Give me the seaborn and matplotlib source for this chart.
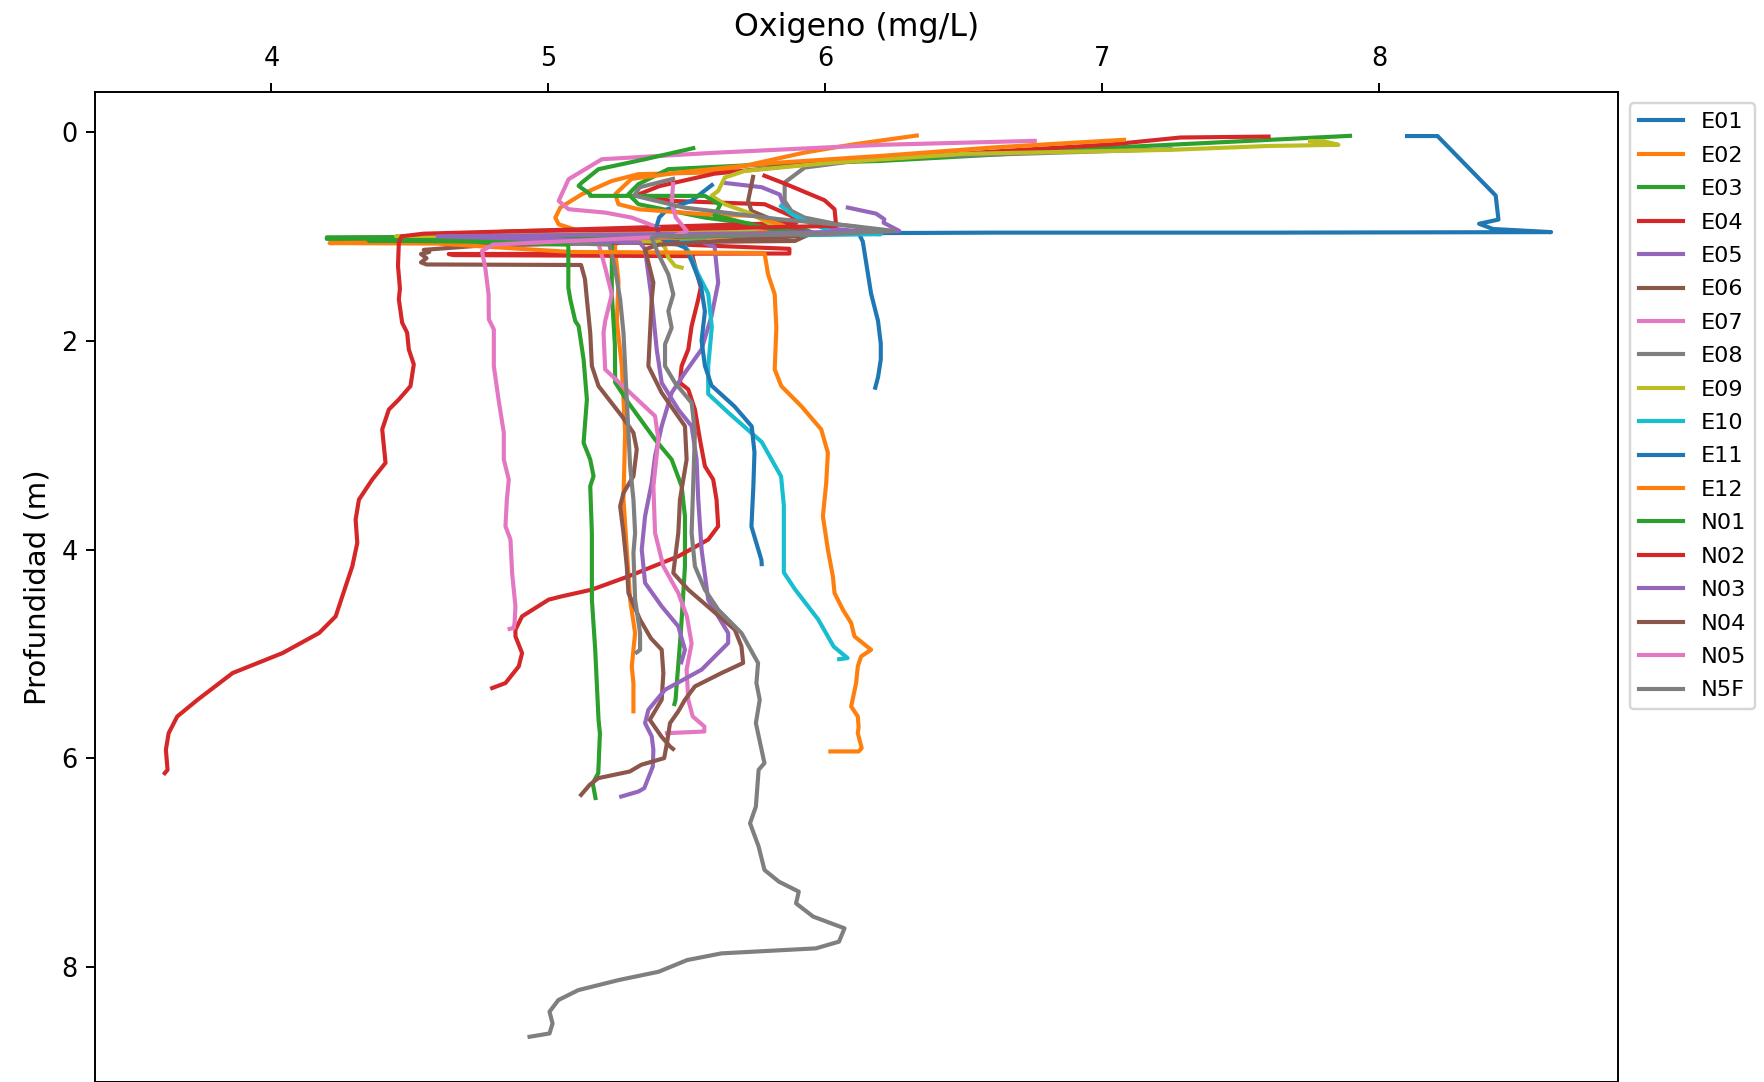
import matplotlib
matplotlib.use("Agg")
import matplotlib.pyplot as plt
import seaborn as sns
import pandas as pd

# Dissolved-oxygen profiles (mg/L) against depth (m) for each station
E01_ox = [8.10, 8.21, 8.42, 8.43, 8.36, 8.41, 8.62, 7.60, 6.60, 6.12, 6.135, 6.15, 6.165, 6.19, 6.20, 6.20, 6.19, 6.18]
E01_prof = [0.04, 0.04, 0.61, 0.84, 0.88, 0.93, 0.96, 0.965, 0.965, 0.97, 1.05, 1.30, 1.55, 1.81, 2.03, 2.18, 2.35, 2.45]

E02_ox = [6.33, 6.10, 5.925, 5.70, 5.565, 5.325, 5.229, 5.121, 5.043, 5.025, 5.037, 5.10, 5.40, 5.70, 5.30, 5.24, 5.241,
          5.253, 5.247, 5.265, 5.277, 5.271, 5.283, 5.295, 5.313, 5.301, 5.307, 5.307]
E02_prof = [0.035, 0.12, 0.198, 0.33, 0.39, 0.405, 0.47, 0.597, 0.725, 0.821, 0.885, 0.94, 0.97, 0.985, 1.00, 1.08, 1.14,
            1.43, 1.81, 2.24, 2.88, 3.52, 4.00, 4.48, 4.80, 5.12, 5.28, 5.55]

E03_ox = [7.894, 7.50, 7.042, 6.60, 6.201, 5.80, 5.433, 5.325, 5.289, 5.325, 5.445, 5.565, 5.745, 5.889, 5.95, 5.20, 4.20,
          4.20, 5.00, 5.229, 5.229, 5.229, 5.24, 5.241, 5.289, 5.385, 5.445, 5.481, 5.493, 5.493, 5.478, 5.463, 5.459, 5.455]
E03_prof = [0.038, 0.09, 0.15, 0.22, 0.278, 0.31, 0.357, 0.501, 0.597, 0.693, 0.757, 0.821, 0.885, 0.901, 0.96, 1.00, 1.01,
            1.025, 1.03, 1.05, 1.11, 1.556, 2.035, 2.40, 2.595, 2.946, 3.138, 3.394, 3.681, 4.161, 4.80, 5.30, 5.44, 5.48]

E04_ox = [7.60, 7.282, 7.042, 6.60, 6.201, 5.90, 5.60, 5.40, 5.325, 5.40, 5.445, 5.781, 5.877, 5.895, 5.40, 4.90, 4.55,
          4.60, 5.30, 5.87, 5.87, 4.64, 4.66, 5.52, 5.55, 5.541, 5.517, 5.505, 5.481, 5.475, 5.505, 5.529, 5.547, 5.565,
          5.595, 5.607, 5.613, 5.577, 5.469, 5.289, 5.157, 5.049, 5.001, 4.905, 4.881, 4.881, 4.905, 4.893, 4.845, 4.797]
E04_prof = [0.045, 0.054, 0.118, 0.19, 0.262, 0.32, 0.40, 0.52, 0.60, 0.64, 0.661, 0.693, 0.805, 0.87, 0.91, 0.95, 0.99,
            1.00, 1.06, 1.12, 1.165, 1.17, 1.18, 1.19, 1.49, 1.604, 1.86, 2.083, 2.243, 2.403, 2.467, 2.659, 2.946, 3.202,
            3.33, 3.522, 3.777, 3.905, 4.065, 4.257, 4.384, 4.448, 4.48, 4.64, 4.768, 4.832, 4.992, 5.119, 5.279, 5.327]

E05_ox = [5.64, 5.77, 5.835, 5.85, 5.90, 6.00, 6.15, 5.50, 4.65, 5.00, 5.55, 5.60, 5.601, 5.613, 5.589, 5.553, 5.493,
          5.445, 5.409, 5.385, 5.373, 5.349, 5.337, 5.349, 5.409, 5.469, 5.493, 5.48]
E05_prof = [0.49, 0.53, 0.60, 0.70, 0.82, 0.92, 0.96, 0.985, 1.00, 1.02, 1.05, 1.10, 1.125, 1.444, 1.764, 2.083, 2.307,
            2.499, 2.818, 3.106, 3.362, 3.681, 4.001, 4.32, 4.544, 4.736, 4.96, 5.08]

E06_ox = [5.739, 5.721, 5.733, 5.805, 5.865, 5.95, 5.89, 5.30, 4.75, 4.55, 4.57, 4.54, 4.56, 4.54, 4.56, 5.118, 5.132,
          5.139, 5.151, 5.157, 5.181, 5.265, 5.307, 5.319, 5.307, 5.271, 5.259, 5.271, 5.283, 5.289, 5.331, 5.37, 5.409,
          5.415, 5.409, 5.373, 5.366, 5.408, 5.439, 5.45]
E06_prof = [0.431, 0.661, 0.757, 0.837, 0.917, 0.97, 1.045, 1.06, 1.09, 1.13, 1.15, 1.17, 1.21, 1.25, 1.27, 1.275, 1.41,
            1.604, 1.924, 2.243, 2.435, 2.722, 2.882, 3.042, 3.298, 3.458, 3.585, 3.841, 4.161, 4.417, 4.672, 4.85, 4.96,
            5.183, 5.439, 5.60, 5.631, 5.791, 5.886, 5.91]

E07_ox = [6.756, 6.20, 5.60, 5.193, 5.073, 5.037, 5.073, 5.205, 5.301, 5.397, 5.42, 5.12, 5.175, 5.205, 5.229, 5.205,
          5.199, 5.205, 5.385, 5.397, 5.379, 5.385, 5.415, 5.469, 5.50, 5.517, 5.499, 5.505, 5.521, 5.563, 5.563, 5.428]
E07_prof = [0.086, 0.124, 0.20, 0.262, 0.453, 0.661, 0.741, 0.773, 0.821, 0.917, 0.97, 1.00, 1.013, 1.30, 1.556, 1.812,
             1.924, 2.275, 2.722, 2.946, 3.394, 3.841, 4.161, 4.417, 4.64, 4.90, 5.15, 5.44, 5.599, 5.695, 5.743, 5.759]

E08_ox = [7.246, 6.70, 6.201, 5.925, 5.853, 5.853, 5.877, 5.925, 6.045, 6.129, 6.22, 5.60, 4.88, 5.00, 5.22, 5.24, 5.259,
          5.271, 5.277, 5.283, 5.289, 5.295, 5.307, 5.313, 5.307, 5.313, 5.331, 5.331, 5.319]
E08_prof = [0.166, 0.21, 0.246, 0.342, 0.485, 0.661, 0.757, 0.821, 0.885, 0.917, 0.95, 0.99, 1.04, 1.06, 1.08, 1.30,
            1.604, 1.924, 2.243, 2.563, 2.882, 3.202, 3.522, 3.841, 4.033, 4.48, 4.80, 4.96, 4.985]

E09_ox = [7.75, 7.80, 7.852, 7.60, 7.246, 6.50, 6.00, 5.709, 5.637, 5.613, 5.589, 5.637, 5.721, 5.769, 5.85, 5.20, 4.45,
          4.90, 5.40, 5.421, 5.433, 5.457, 5.481]
E09_prof = [0.087, 0.09, 0.124, 0.135, 0.172, 0.21, 0.30, 0.374, 0.437, 0.565, 0.613, 0.693, 0.773, 0.837, 0.95, 0.98,
            1.00, 1.02, 1.05, 1.108, 1.204, 1.284, 1.30]

E10_ox = [5.84, 5.88, 5.925, 5.99, 6.02, 6.20, 5.60, 5.48, 5.505, 5.54, 5.577, 5.59, 5.577, 5.577, 5.65, 5.77, 5.84,
          5.85, 5.85, 5.85, 5.89, 5.974, 6.03, 6.08, 6.05]
E10_prof = [0.71, 0.79, 0.85, 0.92, 0.96, 0.98, 1.00, 1.05, 1.14, 1.36, 1.55, 1.87, 2.24, 2.51, 2.69, 2.97, 3.30, 3.58,
            3.84, 4.22, 4.38, 4.67, 4.93, 5.04, 5.05]

E11_ox = [5.59, 5.517, 5.43, 5.40, 5.39, 5.40, 5.45, 5.493, 5.517, 5.55, 5.565, 5.553, 5.565, 5.589, 5.672, 5.734, 5.744,
          5.74, 5.733, 5.769, 5.77]
E11_prof = [0.51, 0.66, 0.74, 0.82, 0.91, 1.00, 1.06, 1.108, 1.236, 1.46, 1.72, 2.00, 2.24, 2.43, 2.63, 2.82, 3.07,
            3.39, 3.78, 4.10, 4.14]

E12_ox = [7.078, 6.60, 6.201, 5.80, 5.50, 5.30, 5.241, 5.253, 5.325, 5.565, 5.745, 5.85, 5.70, 4.80, 4.21, 4.60, 5.08,
          5.78, 5.781, 5.793, 5.817, 5.823, 5.817, 5.841, 5.913, 5.985, 6.009, 6.003, 5.991, 6.009, 6.027, 6.033, 6.063,
          6.093, 6.105, 6.165, 6.129, 6.117, 6.111, 6.093, 6.117, 6.12, 6.117, 6.131, 6.12, 6.018]
E12_prof = [0.076, 0.15, 0.23, 0.30, 0.38, 0.45, 0.597, 0.693, 0.741, 0.789, 0.805, 0.90, 1.00, 1.05, 1.065, 1.07, 1.15,
            1.16, 1.172, 1.364, 1.556, 1.876, 2.275, 2.435, 2.627, 2.85, 3.074, 3.362, 3.681, 4.001, 4.257, 4.417, 4.576,
            4.704, 4.832, 4.96, 5.024, 5.119, 5.279, 5.503, 5.599, 5.70, 5.759, 5.902, 5.934, 5.934]

N01_ox = [5.523, 5.349, 5.181, 5.121, 5.109, 5.151, 5.151, 5.565, 5.62, 5.60, 5.80, 5.95, 5.00, 4.35, 4.70, 5.07, 5.072,
          5.072, 5.079, 5.097, 5.109, 5.127, 5.139, 5.127, 5.151, 5.163, 5.151, 5.157, 5.157, 5.169, 5.181, 5.186, 5.18,
          5.16, 5.17]
N01_prof = [0.156, 0.262, 0.357, 0.485, 0.517, 0.597, 0.613, 0.613, 0.70, 0.80, 0.93, 0.98, 1.03, 1.04, 1.05, 1.08,
            1.108, 1.492, 1.604, 1.812, 1.86, 2.179, 2.563, 2.978, 3.138, 3.298, 3.394, 3.841, 4.48, 4.96, 5.631, 5.759,
            6.142, 6.238, 6.38]

N02_ox = [5.78, 5.853, 5.997, 6.033, 6.039, 5.50, 4.90, 4.55, 4.47, 4.46, 4.457, 4.464, 4.46, 4.472, 4.49, 4.496, 4.514,
          4.502, 4.46, 4.424, 4.40, 4.412, 4.364, 4.316, 4.304, 4.31, 4.292, 4.268, 4.232, 4.172, 4.04, 3.86, 3.733,
          3.66, 3.629, 3.619, 3.625, 3.615]
N02_prof = [0.42, 0.495, 0.655, 0.741, 0.90, 0.93, 0.95, 0.975, 1.00, 1.06, 1.285, 1.50, 1.604, 1.828, 1.924, 2.083,
            2.227, 2.435, 2.563, 2.659, 2.85, 3.17, 3.33, 3.522, 3.713, 3.937, 4.161, 4.352, 4.64, 4.80, 4.992, 5.183,
            5.44, 5.599, 5.759, 5.918, 6.11, 6.142]

N03_ox = [6.081, 6.183, 6.213, 6.21, 6.267, 5.80, 5.00, 4.60, 5.00, 5.33, 5.349, 5.373, 5.391, 5.409, 5.469, 5.517,
          5.535, 5.541, 5.553, 5.577, 5.649, 5.649, 5.553, 5.421, 5.361, 5.349, 5.373, 5.379, 5.377, 5.346, 5.325, 5.263]
N03_prof = [0.725, 0.783, 0.837, 0.87, 0.949, 0.97, 0.99, 1.00, 1.03, 1.06, 1.125, 1.604, 2.083, 2.403, 2.659, 2.818,
            3.138, 3.522, 4.001, 4.481, 4.80, 4.896, 5.151, 5.343, 5.535, 5.663, 5.79, 5.918, 6.078, 6.286, 6.318, 6.366]

N04_ox = [5.90, 5.40, 5.349, 5.379, 5.373, 5.361, 5.409, 5.493, 5.499, 5.475, 5.469, 5.451, 5.505, 5.589, 5.673, 5.697,
          5.703, 5.625, 5.529, 5.493, 5.469, 5.439, 5.428, 5.418, 5.335, 5.294, 5.18, 5.149, 5.118]
N04_prof = [1.00, 1.08, 1.125, 1.444, 1.604, 2.243, 2.499, 2.818, 3.138, 3.522, 3.841, 4.225, 4.385, 4.576, 4.768, 4.928,
            5.087, 5.183, 5.311, 5.439, 5.55, 5.663, 5.854, 5.998, 6.062, 6.126, 6.19, 6.254, 6.35]

N05_ox = [5.45, 5.445, 5.46, 5.50, 5.45, 4.80, 4.76, 4.772, 4.784, 4.785, 4.803, 4.803, 4.82, 4.839, 4.839, 4.857, 4.85,
          4.845, 4.863, 4.869, 4.881, 4.878, 4.875, 4.86]
N05_prof = [0.50, 0.69, 0.82, 0.95, 1.00, 1.08, 1.14, 1.30, 1.556, 1.796, 1.892, 2.243, 2.563, 2.882, 3.138, 3.33, 3.522,
            3.777, 3.905, 4.225, 4.544, 4.70, 4.752, 4.76]

N5F_ox = [5.45, 5.33, 5.31, 5.49, 5.835, 6.097, 6.249, 6.00, 5.40, 5.373, 5.397, 5.433, 5.451, 5.433, 5.445, 5.421,
          5.421, 5.457, 5.517, 5.529, 5.523, 5.517, 5.529, 5.565, 5.613, 5.697, 5.757, 5.751, 5.763, 5.749, 5.78, 5.759,
          5.749, 5.728, 5.759, 5.78, 5.832, 5.904, 5.894, 5.956, 6.069, 6.049, 5.966, 5.625, 5.501, 5.398, 5.253, 5.108,
          5.036, 5.004, 5.015, 5.004, 4.932]
N5F_prof = [0.45, 0.53, 0.61, 0.725, 0.837, 0.901, 0.949, 0.98, 1.00, 1.013, 1.172, 1.364, 1.556, 1.716, 1.876, 2.035,
            2.243, 2.403, 2.595, 2.882, 3.362, 3.841, 4.161, 4.385, 4.576, 4.80, 5.087, 5.279, 5.439, 5.663, 6.046, 6.11,
            6.462, 6.622, 6.845, 7.069, 7.181, 7.277, 7.389, 7.516, 7.628, 7.756, 7.82, 7.868, 7.932, 8.044, 8.124, 8.22,
            8.315, 8.427, 8.539, 8.635, 8.667]

stations = ["E01", "E02", "E03", "E04", "E05", "E06", "E07", "E08", "E09", "E10", "E11", "E12",
            "N01", "N02", "N03", "N04", "N05", "N5F"]
profiles = {
    "E01": (E01_ox, E01_prof), "E02": (E02_ox, E02_prof), "E03": (E03_ox, E03_prof),
    "E04": (E04_ox, E04_prof), "E05": (E05_ox, E05_prof), "E06": (E06_ox, E06_prof),
    "E07": (E07_ox, E07_prof), "E08": (E08_ox, E08_prof), "E09": (E09_ox, E09_prof),
    "E10": (E10_ox, E10_prof), "E11": (E11_ox, E11_prof), "E12": (E12_ox, E12_prof),
    "N01": (N01_ox, N01_prof), "N02": (N02_ox, N02_prof), "N03": (N03_ox, N03_prof),
    "N04": (N04_ox, N04_prof), "N05": (N05_ox, N05_prof), "N5F": (N5F_ox, N5F_prof),
}

rows = []
for st in stations:
    ox, prof = profiles[st]
    for i, (o, p) in enumerate(zip(ox, prof)):
        rows.append({"Estacion": st, "Oxigeno": o, "Profundidad": p, "orden": i})
df = pd.DataFrame(rows)

tab10 = ["tab:blue", "tab:orange", "tab:green", "tab:red", "tab:purple",
         "tab:brown", "tab:pink", "tab:gray", "tab:olive", "tab:cyan"]
palette = [tab10[i % 10] for i in range(len(stations))]

W, H, DPI = 1764, 1082, 175
fig = plt.figure(figsize=(W / DPI, H / DPI), dpi=DPI)
ax = fig.add_axes([94.7 / W, 0.0, (1618.4 - 94.7) / W, 1 - 92.2 / H])

sns.lineplot(data=df, x="Oxigeno", y="Profundidad", hue="Estacion", hue_order=stations,
             palette=palette, sort=False, estimator=None, units="Estacion",
             linewidth=1.7, ax=ax)

ax.set_xlim(3.362, 8.863)
ax.set_ylim(9.10, -0.38)
ax.xaxis.tick_top()
ax.xaxis.set_label_position("top")
ax.set_xlabel("Oxigeno (mg/L)", fontsize=13, labelpad=4)
ax.set_ylabel("Profundidad (m)", fontsize=12)
ax.tick_params(labelsize=10.5)
ax.tick_params(axis="x", pad=5)

sns.move_legend(ax, "upper left", bbox_to_anchor=(1.0, 1.0), title=None,
                fontsize=9.2, labelspacing=0.6, frameon=True)

fig.savefig("out.png", dpi=DPI)
